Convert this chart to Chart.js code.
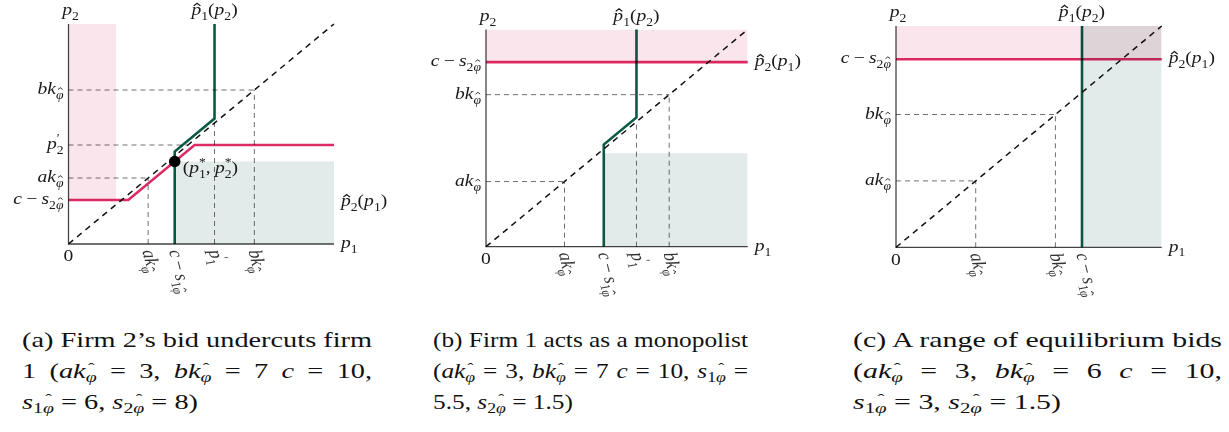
<!DOCTYPE html>
<html>
<head>
<meta charset="utf-8">
<script src="https://cdn.jsdelivr.net/npm/chart.js@4"></script>
<style>
body { margin: 0; background: #fff; }
#wrap { position: relative; width: 1229px; height: 432px; overflow: hidden; }
canvas { position: absolute; top: 0; }
.cap { position: absolute; top: 325px; font-family: "Liberation Serif", "Times New Roman", "DejaVu Serif", serif; font-size: 21px; line-height: 31px; color: #111; transform-origin: 0 0; white-space: nowrap; }
.cap .ln { display: block; text-align: justify; text-align-last: justify; }
.cap .ln.last { text-align: left; text-align-last: left; }
.cap sub { font-size: 70%; vertical-align: -0.3em; line-height: 0; }
.cap .h { position: relative; display: inline-block; font-style: italic; }
.cap .h::after { content: "ˆ"; position: absolute; left: 0.12em; top: -0.62em; font-style: normal; }
</style>
</head>
<body>
<div id="wrap">
  <canvas id="ca" width="410" height="305" style="left:0px"></canvas>
  <canvas id="cb" width="410" height="305" style="left:410px"></canvas>
  <canvas id="cc" width="409" height="305" style="left:820px"></canvas>

  <div class="cap" data-w="350" style="left:22px">
    <span class="ln">(a) Firm 2’s bid undercuts firm</span>
    <span class="ln">1 (<i>ak</i><sub><span class="h">φ</span></sub> = 3, <i>bk</i><sub><span class="h">φ</span></sub> = 7 <i>c</i> = 10,</span>
    <span class="ln last"><i>s</i><sub>1<span class="h">φ</span></sub> = 6, <i>s</i><sub>2<span class="h">φ</span></sub> = 8)</span>
  </div>
  <div class="cap" data-w="315" style="left:433px">
    <span class="ln">(b) Firm 1 acts as a monopolist</span>
    <span class="ln">(<i>ak</i><sub><span class="h">φ</span></sub> = 3, <i>bk</i><sub><span class="h">φ</span></sub> = 7 <i>c</i> = 10, <i>s</i><sub>1<span class="h">φ</span></sub> =</span>
    <span class="ln last">5.5, <i>s</i><sub>2<span class="h">φ</span></sub> = 1.5)</span>
  </div>
  <div class="cap" data-w="369" style="left:853px">
    <span class="ln">(c) A range of equilibrium bids</span>
    <span class="ln">(<i>ak</i><sub><span class="h">φ</span></sub> = 3, <i>bk</i><sub><span class="h">φ</span></sub> = 6 <i>c</i> = 10,</span>
    <span class="ln last"><i>s</i><sub>1<span class="h">φ</span></sub> = 3, <i>s</i><sub>2<span class="h">φ</span></sub> = 1.5)</span>
  </div>
</div>

<script>
// ---- panel (a): firm 2 undercuts firm 1
const aPinkX = [0, 2.25, 4.75, 10];
const aPinkY = [2, 2, 4.5, 4.5];
const aGreenX = [4, 4, 5.5, 5.5];
const aGreenY = [0, 4.2, 5.7, 10];
const aPinkZoneX = [0, 1.8];
const aPinkZoneY = [2, 10];
const aGreenZoneX = [4, 10];
const aGreenZoneY = [0, 3.75];
const aGuideX = [3, 5.5, 7];
const aGuideY = [3, 4.5, 7];
const aXTickVals = [3, 4, 5.5, 7];
const aXTickText = ['ak_{~φ}', 'c − s_{1~φ}', "p'_1", 'bk_{~φ}'];
const aYTickVals = [7, 4.5, 3, 2];
const aYTickText = ['bk_{~φ}', "p'_2", 'ak_{~φ}', 'c − s_{2~φ}'];
const aEq = [4, 3.75];

// ---- panel (b): firm 1 monopolist
const bPinkX = [0, 10];
const bPinkY = [8.5, 8.5];
const bGreenX = [4.5, 4.5, 5.75, 5.75];
const bGreenY = [0, 4.7, 5.95, 10];
const bPinkZoneX = [0, 10];
const bPinkZoneY = [8.5, 10];
const bGreenZoneX = [4.5, 10];
const bGreenZoneY = [0, 4.3];
const bGuideX = [3, 5.75, 7];
const bGuideY = [3, 7];
const bXTickVals = [3, 4.5, 5.75, 7];
const bXTickText = ['ak_{~φ}', 'c − s_{1~φ}', "p'_1", 'bk_{~φ}'];
const bYTickVals = [8.5, 7, 3];
const bYTickText = ['c − s_{2~φ}', 'bk_{~φ}', 'ak_{~φ}'];

// ---- panel (c): range of equilibria
const cPinkX = [0, 10];
const cPinkY = [8.5, 8.5];
const cGreenX = [7, 7];
const cGreenY = [0, 10];
const cPinkZoneX = [0, 10];
const cPinkZoneY = [8.5, 10];
const cGreenZoneX = [7, 10];
const cGreenZoneY = [0, 10];
const cGuideX = [3, 6];
const cGuideY = [3, 6];
const cXTickVals = [3, 6, 7];
const cXTickText = ['ak_{~φ}', 'bk_{~φ}', 'c − s_{1~φ}'];
const cYTickVals = [8.5, 6, 3];
const cYTickText = ['c − s_{2~φ}', 'bk_{~φ}', 'ak_{~φ}'];

const PINK = '#dc2b63';
const GREEN = '#0c5a46';
const PINK_ZONE = '#fbe5ec';
const GREEN_ZONE = '#e2ebe9';
const SERIF = '"Liberation Serif", "Times New Roman", "DejaVu Serif", serif';
const SX = 1.15;   // the reference is drawn a bit wide
const FS = 17;

function xy(xs, ys) {
  return xs.map((x, i) => ({ x: x, y: ys[i] }));
}

// tiny math-ish text: _{..} sub, ^{..} sup, ~ puts a hat on next char, ' is a prime
function parseMath(s) {
  const out = [];
  let mode = 0, single = false, hat = false;
  for (let i = 0; i < s.length; i++) {
    const c = s[i];
    if (c === '_' || c === '^') {
      mode = c === '_' ? -1 : 1;
      if (s[i + 1] === '{') { i++; single = false; } else single = true;
      continue;
    }
    if (c === '}') { mode = 0; continue; }
    if (c === '~') { hat = true; continue; }
    if (c === "'") { out.push({ ch: '\u2032', mode: 1 }); continue; }
    out.push({ ch: c, mode: mode, hat: hat });
    hat = false;
    if (single) { mode = 0; single = false; }
  }
  return out;
}

function layoutMath(ctx, s, fs) {
  const items = [];
  let x = 0, prev = 0, sStart = 0, sEnd = 0;
  parseMath(s).forEach(g => {
    const size = g.mode ? fs * 0.7 : fs;
    const ital = /[a-zA-Zα-ωϕ]/.test(g.ch);
    const font = (ital ? 'italic ' : '') + size + 'px ' + SERIF;
    if (g.mode !== 0 && prev === 0) { sStart = x; sEnd = x; }
    if (g.mode !== 0 && prev !== 0 && g.mode !== prev) { sEnd = Math.max(sEnd, x); x = sStart; }
    if (g.mode === 0 && prev !== 0) x = Math.max(x, sEnd);
    ctx.font = font;
    let w = g.ch === ' ' ? fs * 0.22 : ctx.measureText(g.ch).width;
    const dy = g.mode === -1 ? fs * 0.28 : g.mode === 1 ? -fs * 0.4 : 0;
    items.push({ ch: g.ch, font: font, x: x, dy: dy, w: w, hat: g.hat, size: size });
    x += w;
    prev = g.mode;
  });
  if (prev !== 0) x = Math.max(x, sEnd);
  return { items: items, width: x };
}

function drawMath(ctx, s, x, y, align, rot, color) {
  const L = layoutMath(ctx, s, FS);
  ctx.save();
  ctx.translate(x, y);
  ctx.scale(SX, 1);
  if (rot) ctx.rotate(rot);
  const ox = align === 'right' ? -L.width : align === 'center' ? -L.width / 2 : 0;
  const base = FS * 0.25;
  ctx.fillStyle = color;
  ctx.strokeStyle = color;
  ctx.textAlign = 'left';
  ctx.textBaseline = 'alphabetic';
  L.items.forEach(it => {
    ctx.font = it.font;
    ctx.fillText(it.ch, ox + it.x, base + it.dy);
    if (it.hat) {
      const tall = /[bdfhklφϕA-Z0-9]/.test(it.ch);
      const top = base + it.dy - it.size * (tall ? 0.8 : 0.55);
      const cx = ox + it.x + it.w * 0.58;
      const hw = it.size * 0.17;
      ctx.lineWidth = it.size * 0.07;
      ctx.beginPath();
      ctx.moveTo(cx - hw, top);
      ctx.lineTo(cx, top - it.size * 0.15);
      ctx.lineTo(cx + hw, top);
      ctx.stroke();
    }
  });
  ctx.restore();
}

const multiplyPlugin = {
  id: 'multiply',
  beforeDatasetsDraw(chart) { chart.ctx.globalCompositeOperation = 'multiply'; },
  afterDatasetsDraw(chart) { chart.ctx.globalCompositeOperation = 'source-over'; }
};

const labelPlugin = {
  id: 'mathLabels',
  afterDraw(chart) {
    const p = chart.config.options.panel;
    const ctx = chart.ctx;
    const xs = chart.scales.x, ys = chart.scales.y;
    const a = chart.chartArea;
    const ink = '#1a1a1a';
    p.yTickVals.forEach((v, i) => drawMath(ctx, p.yTickText[i], a.left - 5, ys.getPixelForValue(v), 'right', 0, ink));
    p.xTickVals.forEach((v, i) => drawMath(ctx, p.xTickText[i], xs.getPixelForValue(v) - 1, a.bottom + 6, 'left', 1.36, '#333'));
    drawMath(ctx, 'p_2', xs.getPixelForValue(0) + 2, a.top - 13, 'center', 0, ink);
    drawMath(ctx, 'p_1', a.right + 7, ys.getPixelForValue(0), 'left', 0, ink);
    drawMath(ctx, '0', xs.getPixelForValue(0), a.bottom + 13, 'center', 0, ink);
    const gx = p.greenX[p.greenX.length - 1];
    drawMath(ctx, '~p_1(p_2)', xs.getPixelForValue(gx), a.top - 13, 'center', 0, ink);
    drawMath(ctx, '~p_2(p_1)', a.right + 7, ys.getPixelForValue(p.p2LabelY), 'left', 0, ink);
    if (p.eq) {
      drawMath(ctx, '(p^*_1, p^*_2)', xs.getPixelForValue(p.eq[0]) + 8, ys.getPixelForValue(p.eq[1]) + 7, 'left', 0, ink);
    }
  }
};

function buildPanel(id, p) {
  const W = p.canvasW, H = 305;
  const ds = [];
  ds.push({ data: xy([p.pinkZoneX[0], p.pinkZoneX[1]], [p.pinkZoneY[1], p.pinkZoneY[1]]),
    fill: { value: p.pinkZoneY[0] }, backgroundColor: PINK_ZONE, borderWidth: 0, order: 20 });
  ds.push({ data: xy([p.greenZoneX[0], p.greenZoneX[1]], [p.greenZoneY[1], p.greenZoneY[1]]),
    fill: { value: p.greenZoneY[0] }, backgroundColor: GREEN_ZONE, borderWidth: 0, order: 19 });
  p.guideX.forEach(v => ds.push({ data: xy([v, v], [0, v]), borderColor: '#6f6f6f', borderWidth: 1, borderDash: [5, 4], order: 12 }));
  p.guideY.forEach(v => ds.push({ data: xy([0, v], [v, v]), borderColor: '#6f6f6f', borderWidth: 1, borderDash: [5, 4], order: 12 }));
  ds.push({ data: xy([0, 10], [0, 10]), borderColor: '#111', borderWidth: 1.5, borderDash: [6, 5], order: 10 });
  ds.push({ data: xy([0, 0, 10], [10, 0, 0]), borderColor: '#444', borderWidth: 1.3, order: 9 });
  ds.push({ data: xy(p.pinkX, p.pinkY), borderColor: PINK, borderWidth: 2.6, order: 5 });
  ds.push({ data: xy(p.greenX, p.greenY), borderColor: GREEN, borderWidth: 2.6, order: 4 });
  if (p.eq) {
    ds.push({ data: [{ x: p.eq[0], y: p.eq[1] }], showLine: false, pointRadius: 5.8,
      pointBackgroundColor: '#000', pointBorderWidth: 0, order: 1 });
  }
  ds.forEach(d => {
    if (d.fill === undefined) d.fill = false;
    if (d.pointRadius === undefined) d.pointRadius = 0;
    d.clip = false;
  });
  return new Chart(document.getElementById(id), {
    type: 'line',
    data: { datasets: ds },
    options: {
      responsive: false,
      animation: false,
      devicePixelRatio: 1,
      events: [],
      panel: p,
      layout: { padding: { left: p.box[0] - p.left, top: p.box[1], right: W - (p.box[2] - p.left), bottom: H - p.box[3] } },
      plugins: { legend: { display: false }, tooltip: { enabled: false } },
      elements: { line: { tension: 0 } },
      scales: {
        x: { type: 'linear', min: 0, max: 10, display: false },
        y: { type: 'linear', min: 0, max: 10, display: false }
      }
    },
    plugins: [multiplyPlugin, labelPlugin]
  });
}

buildPanel('ca', {
  left: 0, canvasW: 410, box: [68.5, 24, 334, 244],
  pinkX: aPinkX, pinkY: aPinkY, greenX: aGreenX, greenY: aGreenY,
  pinkZoneX: aPinkZoneX, pinkZoneY: aPinkZoneY, greenZoneX: aGreenZoneX, greenZoneY: aGreenZoneY,
  guideX: aGuideX, guideY: aGuideY,
  xTickVals: aXTickVals, xTickText: aXTickText, yTickVals: aYTickVals, yTickText: aYTickText,
  p2LabelY: 1.9, eq: aEq
});
buildPanel('cb', {
  left: 410, canvasW: 410, box: [486, 29.5, 747.7, 246.7],
  pinkX: bPinkX, pinkY: bPinkY, greenX: bGreenX, greenY: bGreenY,
  pinkZoneX: bPinkZoneX, pinkZoneY: bPinkZoneY, greenZoneX: bGreenZoneX, greenZoneY: bGreenZoneY,
  guideX: bGuideX, guideY: bGuideY,
  xTickVals: bXTickVals, xTickText: bXTickText, yTickVals: bYTickVals, yTickText: bYTickText,
  p2LabelY: 8.5
});
buildPanel('cc', {
  left: 820, canvasW: 409, box: [896, 26, 1161.7, 247.3],
  pinkX: cPinkX, pinkY: cPinkY, greenX: cGreenX, greenY: cGreenY,
  pinkZoneX: cPinkZoneX, pinkZoneY: cPinkZoneY, greenZoneX: cGreenZoneX, greenZoneY: cGreenZoneY,
  guideX: cGuideX, guideY: cGuideY,
  xTickVals: cXTickVals, xTickText: cXTickText, yTickVals: cYTickVals, yTickText: cYTickText,
  p2LabelY: 8.5
});

// stretch captions to the reference widths
document.querySelectorAll('.cap').forEach(cap => {
  const target = +cap.dataset.w;
  const first = cap.querySelector('.ln');
  const probe = document.createElement('span');
  probe.style.display = 'inline-block';
  probe.innerHTML = first.innerHTML;
  cap.appendChild(probe);
  const natural = probe.getBoundingClientRect().width;
  cap.removeChild(probe);
  const s = target / natural;
  cap.style.width = (target / s) + 'px';
  cap.style.transform = 'scaleX(' + s + ')';
});
</script>
</body>
</html>
